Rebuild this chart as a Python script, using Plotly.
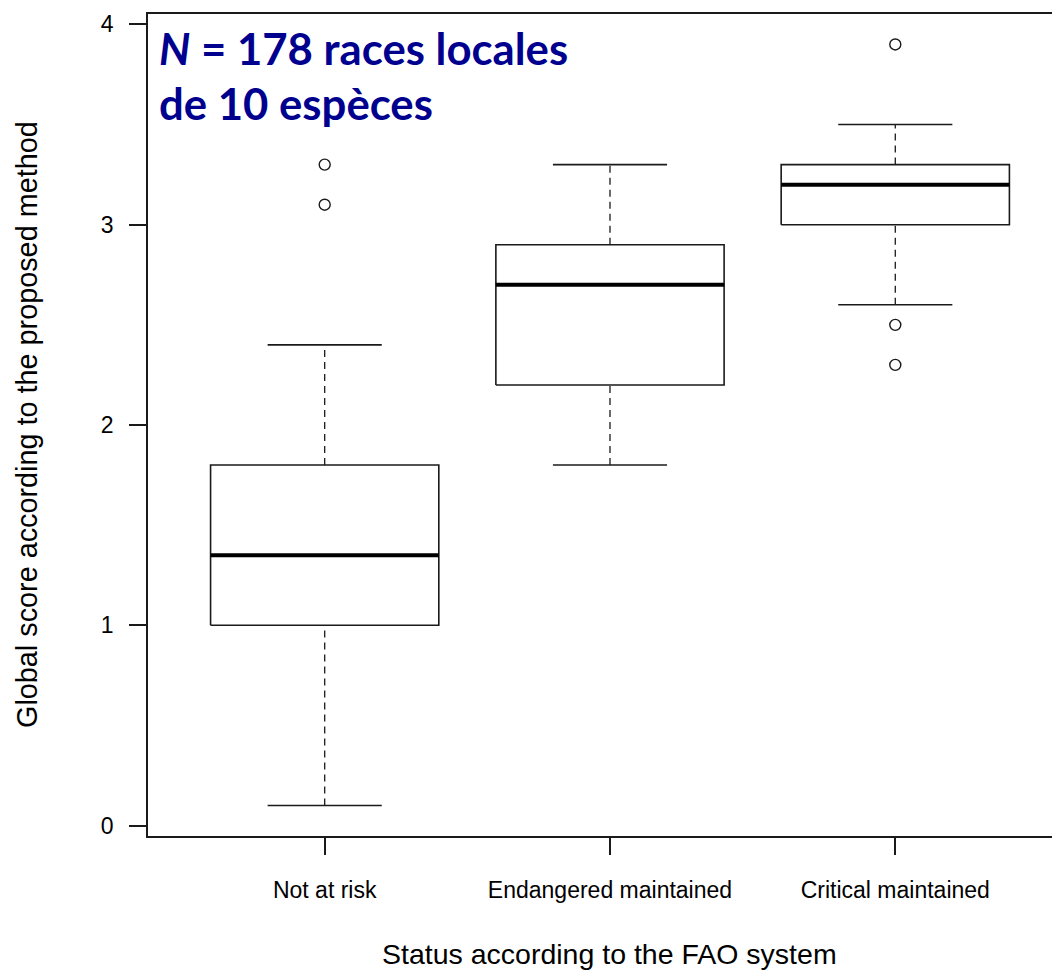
import plotly.graph_objects as go

# ---- data ----
categories = ["Not at risk", "Endangered maintained", "Critical maintained"]
q1 = [1.0, 2.2, 3.0]
median = [1.35, 2.7, 3.2]
q3 = [1.8, 2.9, 3.3]
whisker_low = [0.1, 1.8, 2.6]
whisker_high = [2.4, 3.3, 3.5]
outliers = [[3.1, 3.3], [], [2.3, 2.5, 3.9]]
y_ticks = [0, 1, 2, 3, 4]

# ---- style ----
W, H = 1052, 971
ML, MR, MT, MB = 148, 0, 14, 135
LINE = "#1a1a1a"
FONT = "Liberation Sans, Arial, sans-serif"
BOX_HALF = 0.4
CAP_HALF = 0.2

fig = go.Figure()
xs = list(range(1, len(categories) + 1))

for i, x in enumerate(xs):
    # lower whisker (dashed)
    fig.add_trace(go.Scatter(x=[x, x], y=[whisker_low[i], q1[i]], mode="lines",
                             line=dict(color=LINE, width=1.3, dash="7px,5px"),
                             hoverinfo="skip", showlegend=False))
    # upper whisker (dashed)
    fig.add_trace(go.Scatter(x=[x, x], y=[q3[i], whisker_high[i]], mode="lines",
                             line=dict(color=LINE, width=1.3, dash="7px,5px"),
                             hoverinfo="skip", showlegend=False))
    # caps
    for v in (whisker_low[i], whisker_high[i]):
        fig.add_trace(go.Scatter(x=[x - CAP_HALF, x + CAP_HALF], y=[v, v], mode="lines",
                                 line=dict(color=LINE, width=1.6),
                                 hoverinfo="skip", showlegend=False))
    # box
    fig.add_trace(go.Scatter(x=[x - BOX_HALF, x + BOX_HALF, x + BOX_HALF, x - BOX_HALF, x - BOX_HALF],
                             y=[q1[i], q1[i], q3[i], q3[i], q1[i]], mode="lines",
                             fill="toself", fillcolor="white",
                             line=dict(color=LINE, width=1.6),
                             hoverinfo="skip", showlegend=False))
    # median
    fig.add_trace(go.Scatter(x=[x - BOX_HALF, x + BOX_HALF], y=[median[i], median[i]], mode="lines",
                             line=dict(color="black", width=4),
                             hoverinfo="skip", showlegend=False))
    # outliers
    if outliers[i]:
        fig.add_trace(go.Scatter(x=[x] * len(outliers[i]), y=outliers[i], mode="markers",
                                 marker=dict(symbol="circle-open", size=11, color=LINE,
                                             line=dict(width=1.4, color=LINE)),
                                 hoverinfo="skip", showlegend=False))

pw = W - ML - MR
ph = H - MT - MB


def px_x(p):
    return (p - ML) / pw


def px_y(p):
    return (H - MB - p) / ph


fig.update_layout(
    width=W, height=H,
    margin=dict(l=ML, r=MR, t=MT, b=MB, pad=0),
    paper_bgcolor="white", plot_bgcolor="white",
    font=dict(family=FONT, color="black"),
    xaxis=dict(range=[0.3807, 0.3807 + pw / 285.3], tickmode="array", tickvals=xs,
               ticktext=categories, ticks="outside", ticklen=17, tickwidth=1.5,
               tickcolor=LINE, showline=True, linecolor=LINE, linewidth=1.6,
               mirror=True, showgrid=False, zeroline=False,
               tickfont=dict(size=23, family=FONT, color="black"),
               ticklabelstandoff=16),
    yaxis=dict(range=[-0.052, 4.052], tickmode="array", tickvals=y_ticks,
               ticktext=[str(t) for t in y_ticks], ticks="outside", ticklen=17,
               tickwidth=1.5, tickcolor=LINE, showline=True, linecolor=LINE,
               linewidth=1.6, showgrid=False, zeroline=False,
               tickfont=dict(size=23, family=FONT, color="black"),
               ticklabelstandoff=11),
)

annotations = [
    dict(text="Status according to the FAO system", xref="x", x=2, yref="paper",
         y=px_y(954), xanchor="center", yanchor="middle", showarrow=False,
         font=dict(size=28.5, family=FONT, color="black")),
    dict(text="Global score according to the proposed method", xref="paper", x=px_x(27),
         yref="y", y=2, xanchor="center", yanchor="middle", textangle=-90, showarrow=False,
         font=dict(size=28.8, family=FONT, color="black")),
    dict(text="<b><i>N</i> = 178 races locales</b>", xref="paper", x=px_x(157),
         yref="paper", y=px_y(48), xanchor="left", yanchor="middle", showarrow=False,
         font=dict(size=43.7, family="Lato, sans-serif", color="#00008F")),
    dict(text="<b>de 10 espèces</b>", xref="paper", x=px_x(157),
         yref="paper", y=px_y(103), xanchor="left", yanchor="middle", showarrow=False,
         font=dict(size=43.7, family="Lato, sans-serif", color="#00008F")),
]
fig.update_layout(annotations=annotations)

fig.write_html("out.html", config={"displayModeBar": False},
               post_script="document.body.style.margin='0';")
